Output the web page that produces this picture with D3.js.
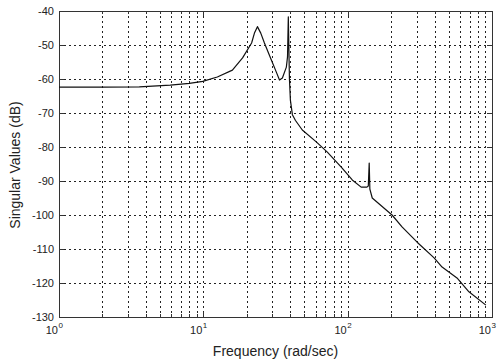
<!DOCTYPE html>
<html>
<head>
<meta charset="utf-8">
<script src="https://cdn.jsdelivr.net/npm/d3@7"></script>
<style>
  body { margin: 0; background: #fff; }
  text { font-family: Arial, "Liberation Sans", sans-serif; fill: #222; }
</style>
</head>
<body>
<svg id="chart" width="502" height="362"></svg>
<script>
// singular value response
const freq = [1, 2, 3.6, 5.9, 8, 9.9, 12.5, 15.9, 18.7, 21.6, 22.6, 23.7, 25, 26.5, 29.6, 32.2, 33.7, 35.3, 37.6, 38.3, 38.8, 39.5, 40.1, 41.4, 43.5, 48.5, 60.6, 72.3, 90.3, 107.6, 124, 136, 139, 141, 142.5, 148, 179, 203, 238, 303, 397, 451, 572, 692, 907];
const sv = [-62.4, -62.4, -62.3, -61.8, -61.3, -60.7, -59.4, -57.4, -53.8, -49.4, -46.5, -44.6, -46.5, -49.4, -54.4, -58.2, -60.3, -59.7, -56.5, -53.5, -41.7, -60, -66.2, -70.5, -72.2, -75, -78.5, -81.5, -85.9, -89.7, -91.8, -91.8, -91.5, -84.7, -92.4, -95, -98, -100, -103.5, -108, -112.6, -115.3, -118.5, -122.6, -126.5];

const yTicks = [-130, -120, -110, -100, -90, -80, -70, -60, -50, -40];
const xDecades = [1, 10, 100, 1000];
const xExponents = ["0", "1", "2", "3"];

const svg = d3.select("#chart");
const margin = { top: 11, right: 10, bottom: 45, left: 59 };
const width = +svg.attr("width") - margin.left - margin.right;
const height = +svg.attr("height") - margin.top - margin.bottom;

const x = d3.scaleLog()
  .domain([1, 1000])
  .range([margin.left, margin.left + width]);

const y = d3.scaleLinear()
  .domain([-130, -40])
  .range([margin.top + height, margin.top]);

// minor + major positions for the log grid
const xGrid = [];
xDecades.slice(0, 3).forEach(d => {
  for (let k = 1; k < 10; k++) xGrid.push(d * k);
});
xGrid.push(1000);

const grid = svg.append("g").attr("class", "grid")
  .attr("stroke", "#222")
  .attr("stroke-width", 1)
  .attr("stroke-dasharray", "2,3");

grid.selectAll(".vgrid")
  .data(xGrid.filter(d => d > 1 && d < 1000))
  .enter().append("line")
  .attr("x1", d => Math.round(x(d)) + 0.5)
  .attr("x2", d => Math.round(x(d)) + 0.5)
  .attr("y1", margin.top)
  .attr("y2", margin.top + height);

grid.selectAll(".hgrid")
  .data(yTicks.slice(1, -1))
  .enter().append("line")
  .attr("x1", margin.left)
  .attr("x2", margin.left + width)
  .attr("y1", d => Math.round(y(d)) + 0.5)
  .attr("y2", d => Math.round(y(d)) + 0.5);

// box
svg.append("rect")
  .attr("x", margin.left + 0.5)
  .attr("y", margin.top + 0.5)
  .attr("width", width)
  .attr("height", height)
  .attr("fill", "none")
  .attr("stroke", "#333")
  .attr("stroke-width", 1);

// inward ticks
const ticks = svg.append("g").attr("stroke", "#333").attr("stroke-width", 1);
yTicks.forEach(t => {
  const yy = Math.round(y(t)) + 0.5;
  ticks.append("line").attr("x1", margin.left).attr("x2", margin.left + 5).attr("y1", yy).attr("y2", yy);
  ticks.append("line").attr("x1", margin.left + width - 5).attr("x2", margin.left + width).attr("y1", yy).attr("y2", yy);
});
xGrid.forEach(t => {
  const xx = Math.round(x(t)) + 0.5;
  const len = xDecades.includes(t) ? 5 : 3;
  ticks.append("line").attr("x1", xx).attr("x2", xx).attr("y1", margin.top + height).attr("y2", margin.top + height - len);
  ticks.append("line").attr("x1", xx).attr("x2", xx).attr("y1", margin.top).attr("y2", margin.top + len);
});

// y tick labels
svg.selectAll(".ylab")
  .data(yTicks)
  .enter().append("text")
  .attr("x", margin.left - 5)
  .attr("y", d => y(d) + 4)
  .attr("text-anchor", "end")
  .attr("font-size", 11)
  .text(d => d);

// x tick labels: 10 with superscript exponent
xDecades.forEach((d, i) => {
  const xx = x(d);
  svg.append("text")
    .attr("x", xx - 1)
    .attr("y", margin.top + height + 17)
    .attr("text-anchor", "end")
    .attr("font-size", 11)
    .text("10");
  svg.append("text")
    .attr("x", xx - 0.5)
    .attr("y", margin.top + height + 11)
    .attr("font-size", 8)
    .text(xExponents[i]);
});

// axis titles
svg.append("text")
  .attr("x", margin.left + width / 2)
  .attr("y", margin.top + height + 39)
  .attr("text-anchor", "middle")
  .attr("font-size", 14)
  .text("Frequency (rad/sec)");

svg.append("text")
  .attr("transform", "rotate(-90)")
  .attr("x", -(margin.top + height / 2) - 1)
  .attr("y", 20)
  .attr("text-anchor", "middle")
  .attr("font-size", 14)
  .text("Singular Values (dB)");

// response curve
const data = freq.map((f, i) => ({ f: f, v: sv[i] }));
const line = d3.line()
  .x(d => x(d.f))
  .y(d => y(d.v));

svg.append("path")
  .datum(data)
  .attr("fill", "none")
  .attr("stroke", "#111")
  .attr("stroke-width", 1.2)
  .attr("stroke-linejoin", "round")
  .attr("d", line);
</script>
</body>
</html>
